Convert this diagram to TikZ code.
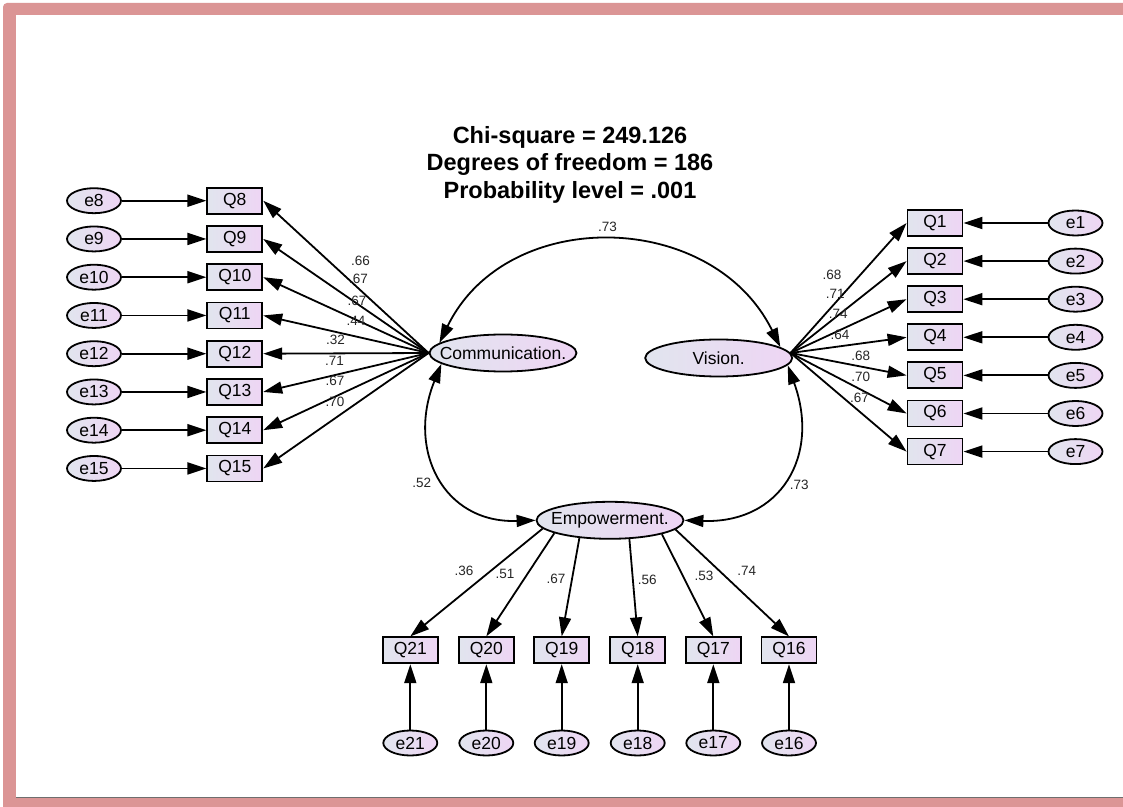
\documentclass[tikz,border=0pt]{standalone}
\usepackage{fontspec}
\setmainfont{Liberation Sans}
\usetikzlibrary{shapes.geometric,arrows.meta}
\definecolor{gL}{RGB}{225,229,238}
\definecolor{gR}{RGB}{238,213,244}
\definecolor{framepink}{RGB}{219,149,149}
\definecolor{rulegray}{RGB}{110,110,110}
\newcommand{\fsz}[1]{\fontsize{#1}{#1}\selectfont}
\begin{document}
\begin{tikzpicture}[x=1pt,y=1pt,
  every node/.style={inner sep=0pt},
  obs/.style={rectangle, draw, line width=1.8pt, minimum width=55pt, minimum height=26pt, left color=gL, right color=gR, font=\fsz{17.5}},
  err/.style={ellipse, draw, line width=1.8pt, minimum width=54pt, minimum height=25pt, left color=gL, right color=gR, font=\fsz{17.5}},
  lat/.style={ellipse, draw, line width=1.8pt, inner xsep=-12pt, minimum width=147pt, minimum height=37pt, left color=gL, right color=gR, font=\fsz{17.5}},
  lbl/.style={font=\fsz{13.5}, text=black!85},
  pth/.style={line width=1.8pt, -{Triangle[length=19pt,width=12pt]}},
  cov/.style={line width=1.8pt, {Triangle[length=19pt,width=12pt]}-{Triangle[length=19pt,width=12pt]}},
]
\useasboundingbox (0,0) rectangle (1123,806);
\clip (0,0) rectangle (1123,806);
% frame
\fill[white] (0,0) rectangle (1123,806);
\fill[framepink, rounded corners=4pt] (3,-10) rectangle (1140,803);
\fill[white] (16,8.6) rectangle (1140,791);
\draw[rulegray, line width=1.2pt] (16,8.3) -- (1140,8.3);

% title
\node[align=center, font=\fontsize{23.5}{27.5}\bfseries\selectfont] (title) at (570,641.5)
  {Chi-square = 249.126\\Degrees of freedom = 186\\Probability level = .001};

% latent variables
\node[lat] (C) at (503,453) {Communication.};
\node[lat] (V) at (718.7,448) {Vision.};
\node[lat] (E) at (610,285.7) {Empowerment.};

% left indicators
\foreach \i/\y in {8/605.3, 9/567.05, 10/528.8, 11/490.55, 12/452.3, 13/414.05, 14/375.8, 15/337.55}{
  \node[err] (e\i) at (94,\y) {e\i};
  \node[obs] (Q\i) at (234.8,\y) {Q\i};
  \draw[pth] (e\i.east) -- (Q\i.west);
  \draw[pth] (C.west) -- (Q\i.east);
}
% right indicators
\foreach \i/\y in {1/583, 2/544.9, 3/506.8, 4/468.7, 5/430.6, 6/392.5, 7/354.4}{
  \node[obs] (Q\i) at (935,\y) {Q\i};
  \node[err] (e\i) at (1075.5,\y) {e\i};
  \draw[pth] (e\i.west) -- (Q\i.east);
  \draw[pth] (V.4) -- (Q\i.west);
}
% bottom indicators
\foreach \i/\x/\a in {21/410.3/187.7, 20/486.3/193, 19/561.7/210.6, 18/637.7/316.4, 17/713.3/345.8, 16/789/352.1}{
  \node[obs] (Q\i) at (\x,155.7) {Q\i};
  \node[err] (e\i) at (\x,63) {e\i};
  \draw[pth] (e\i.north) -- (Q\i.south);
  \draw[pth] (E.\a) -- (Q\i.north);
}

% covariances
\draw[cov] (C.171) to[out=64, in=116.2, looseness=1.15] (V.10);
\draw[cov] (C.190) to[out=248, in=182, looseness=1.3] (E.west);
\draw[cov] (V.354) to[out=290, in=-2, looseness=1.32] (E.east);

% labels: Communication loadings
\node[lbl] (lc8)  at (360.5,545)   {.66};
\node[lbl] (lc9)  at (358.5,526.7) {.67};
\node[lbl] (lc10) at (357,505.3)   {.67};
\node[lbl] (lc11) at (356,485)     {.44};
\node[lbl] (lc12) at (335.5,465.7) {.32};
\node[lbl] (lc13) at (334.5,445)   {.71};
\node[lbl] (lc14) at (335,425)     {.67};
\node[lbl] (lc15) at (335,404.3)   {.70};
% Vision loadings
\node[lbl] (lv1) at (832,531)     {.68};
\node[lbl] (lv2) at (835.3,511.7) {.71};
\node[lbl] (lv3) at (838.3,491.7) {.74};
\node[lbl] (lv4) at (840,471)     {.64};
\node[lbl] (lv5) at (860.8,450.3) {.68};
\node[lbl] (lv6) at (860.8,429.3) {.70};
\node[lbl] (lv7) at (859.5,407.7) {.67};
% Empowerment loadings
\node[lbl] (le21) at (464,235)    {.36};
\node[lbl] (le20) at (505,231.7)  {.51};
\node[lbl] (le19) at (556,227)    {.67};
\node[lbl] (le18) at (647.3,226)  {.56};
\node[lbl] (le17) at (704,230)    {.53};
\node[lbl] (le16) at (746.7,235)  {.74};
% covariance labels
\node[lbl] (lcv) at (607.5,579.3) {.73};
\node[lbl] (lce) at (421.7,323.3) {.52};
\node[lbl] (lve) at (799.3,321)   {.73};
\end{tikzpicture}
\end{document}
